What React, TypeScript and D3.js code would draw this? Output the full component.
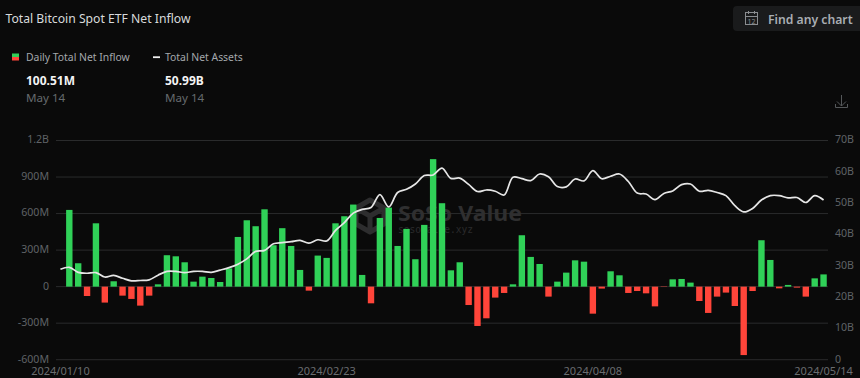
import React, { useEffect, useRef } from "react";
import * as d3 from "d3";

const dates = ["2024/01/10","2024/01/11","2024/01/12","2024/01/16","2024/01/17","2024/01/18","2024/01/19","2024/01/22","2024/01/23","2024/01/24","2024/01/25","2024/01/26","2024/01/29","2024/01/30","2024/01/31",
"2024/02/01","2024/02/02","2024/02/05","2024/02/06","2024/02/07","2024/02/08","2024/02/09","2024/02/12","2024/02/13","2024/02/14","2024/02/15","2024/02/16","2024/02/20","2024/02/21","2024/02/22","2024/02/23","2024/02/26","2024/02/27","2024/02/28","2024/02/29",
"2024/03/01","2024/03/04","2024/03/05","2024/03/06","2024/03/07","2024/03/08","2024/03/11","2024/03/12","2024/03/13","2024/03/14","2024/03/15","2024/03/18","2024/03/19","2024/03/20","2024/03/21","2024/03/22","2024/03/25","2024/03/26","2024/03/27","2024/03/28",
"2024/04/01","2024/04/02","2024/04/03","2024/04/04","2024/04/05","2024/04/08","2024/04/09","2024/04/10","2024/04/11","2024/04/12","2024/04/15","2024/04/16","2024/04/17","2024/04/18","2024/04/19","2024/04/22","2024/04/23","2024/04/24","2024/04/25","2024/04/26","2024/04/29","2024/04/30",
"2024/05/01","2024/05/02","2024/05/03","2024/05/06","2024/05/07","2024/05/08","2024/05/09","2024/05/10","2024/05/13","2024/05/14"];

// Daily net inflow, in millions of USD (first date has no bar)
const inflow: (number | null)[] = [null,630,192,-77,520,-131,44,-74,-101,-156,-74,19,258,249,200,41,82,71,38,150,408,545,496,635,340,480,334,137,-33,255,236,520,578,674,96,-137,564,649,334,474,225,507,1047,685,134,200,-151,-323,-260,-90,-52,19,422,244,186,-82,41,115,216,205,-222,-16,126,93,-52,-36,-55,-162,-3,60,63,33,-118,-216,-82,-49,-159,-562,-36,381,219,-14,14,-8,-82,68,100.51];

// Total net assets, in billions of USD
const assets = [28.9,29.5,27.9,27.6,27.8,26.4,26.9,26.0,25.2,25.3,25.5,27.0,28.2,28.2,27.8,28.2,28.2,27.9,28.6,29.4,30.5,32.2,34.6,34.9,37.0,37.4,37.7,38.1,37.2,38.3,37.9,41.3,43.8,46.8,48.0,48.6,52.7,48.8,53.4,54.4,56.1,58.8,59.0,61.2,57.9,58.0,56.0,53.7,54.2,53.8,52.6,58.3,57.8,57.2,59.3,58.4,55.3,55.2,57.7,57.1,60.4,57.8,58.6,59.3,56.9,53.2,52.9,51.1,53.1,53.9,55.9,56.1,53.8,54.1,53.4,52.4,49.2,47.2,48.3,51.0,52.4,52.4,51.7,51.8,50.2,52.4,50.99];

const leftTicks = [-600, -300, 0, 300, 600, 900, 1200];
const leftLabels = ["-600M", "-300M", "0", "300M", "600M", "900M", "1.2B"];
const rightTicks = [0, 10, 20, 30, 40, 50, 60, 70];
const rightLabels = ["0", "10B", "20B", "30B", "40B", "50B", "60B", "70B"];
const xTickLabels = ["2024/01/10", "2024/02/23", "2024/04/08", "2024/05/14"];

const FONT = "'Noto Sans', sans-serif";
const GREEN = "#30d158";
const RED = "#ff453a";

export default function App() {
  const ref = useRef<SVGSVGElement>(null);
  useEffect(() => {
    const svg = d3.select(ref.current!);
    svg.selectAll("*").remove();
    svg.attr("font-family", FONT);

    const defs = svg.append("defs");
    const lg = defs.append("linearGradient").attr("id", "lg").attr("x1", 0).attr("x2", 0).attr("y1", 0).attr("y2", 1);
    lg.append("stop").attr("offset", "50%").attr("stop-color", GREEN);
    lg.append("stop").attr("offset", "50%").attr("stop-color", RED);

    svg.append("rect").attr("width", 860).attr("height", 378).attr("fill", "#0a0a0a");

    const x = d3.scaleBand<string>().domain(dates).range([56, 828]).paddingInner(0.28).paddingOuter(0.14);
    const yL = d3.scaleLinear().domain([-600, 1200]).range([359.7, 140.5]);
    const yR = d3.scaleLinear().domain([0, 70]).range([359.7, 140.5]);
    const yLabel = d3.scaleLinear().domain([-600, 1200]).range([358.7, 139.5]);
    const cx = (d: string) => x(d)! + x.bandwidth() / 2;

    // header
    svg.append("text").text("Total Bitcoin Spot ETF Net Inflow").attr("x", 5.5).attr("y", 23).attr("font-size", 12.2).attr("fill", "#d8dadc");
    svg.append("rect").attr("x", 12).attr("y", 53.5).attr("width", 7).attr("height", 7).attr("fill", "url(#lg)");
    svg.append("text").text("Daily Total Net Inflow").attr("x", 26).attr("y", 61).attr("font-size", 10.4).attr("fill", "#a4a8ac");
    svg.append("rect").attr("x", 153).attr("y", 56.3).attr("width", 7).attr("height", 1.8).attr("fill", "#f0f0f0");
    svg.append("text").text("Total Net Assets").attr("x", 165).attr("y", 61).attr("font-size", 10.4).attr("fill", "#a4a8ac");
    const vals: [number, string][] = [[26, d3.format(".2f")(inflow[86]!) + "M"], [165, d3.format(".2f")(assets[86]) + "B"]];
    vals.forEach(([vx, t]) => {
      svg.append("text").text(t).attr("x", vx).attr("y", 84.5).attr("font-size", 12).attr("font-weight", 700).attr("fill", "#f4f4f4");
      svg.append("text").text("May 14").attr("x", vx).attr("y", 102).attr("font-size", 11.6).attr("fill", "#666a6e");
    });

    // find button
    svg.append("rect").attr("x", 733).attr("y", 6).attr("width", 140).attr("height", 25).attr("rx", 4).attr("fill", "#1a1b1c");
    const cal = svg.append("g").attr("fill", "none").attr("stroke", "#8a8d90").attr("stroke-width", 1);
    cal.append("rect").attr("x", 745.5).attr("y", 12.5).attr("width", 12).attr("height", 12);
    cal.append("path").attr("d", "M745.5 16.5H757.5M748.5 11V14M754.5 11V14");
    svg.append("text").text("12").attr("x", 751.5).attr("y", 23.5).attr("text-anchor", "middle").attr("font-size", 7).attr("fill", "#8a8d90");
    svg.append("text").text("Find any chart").attr("x", 768).attr("y", 23.5).attr("font-size", 12.2).attr("font-weight", 600).attr("fill", "#a9aeb3");

    // download icon
    svg.append("path").attr("d", "M841.5 95V106M837 101.5L841.5 106L846 101.5M835.5 104V107.5H847.5V104")
      .attr("fill", "none").attr("stroke", "#55585a").attr("stroke-width", 1);

    // grid
    svg.append("g").selectAll("line").data(leftTicks).join("line")
      .attr("x1", 56).attr("x2", 828)
      .attr("y1", (d) => yL(d)).attr("y2", (d) => yL(d))
      .attr("stroke", "#2a2b2c").attr("stroke-width", 1);

    // left / right axes
    const axL = d3.axisLeft(yLabel).tickValues(leftTicks).tickSize(0).tickPadding(0)
      .tickFormat((_, i) => leftLabels[i]);
    const gL = svg.append("g").attr("transform", "translate(49,0)").call(axL);
    gL.select(".domain").remove();
    gL.selectAll("text").attr("font-family", FONT).attr("font-size", 10.6).attr("fill", "#5f6266").attr("dy", "0.32em");

    const yRLabel = d3.scaleLinear().domain([0, 70]).range([358.7, 139.5]);
    const axR = d3.axisRight(yRLabel).tickValues(rightTicks).tickSize(0).tickPadding(0)
      .tickFormat((_, i) => rightLabels[i]);
    const gR = svg.append("g").attr("transform", "translate(835,0)").call(axR);
    gR.select(".domain").remove();
    gR.selectAll("text").attr("font-family", FONT).attr("font-size", 10.6).attr("fill", "#5f6266").attr("dy", "0.32em");

    // x labels
    xTickLabels.forEach((d) => {
      svg.append("text").text(d).attr("x", cx(d)).attr("y", 374.5).attr("text-anchor", "middle")
        .attr("font-size", 11).attr("fill", "#6a6d70");
    });

    // watermark (behind the bars and line)
    const wm = svg.append("g");
    wm.append("path").attr("d", "M370 200L384 208V224L370 232L356 224V208Z M356 208L370 216L384 208M370 216V232")
      .attr("fill", "none").attr("stroke", "#2d2d2e").attr("stroke-width", 5).attr("stroke-linejoin", "round");
    wm.append("text").text("SoSo Value").attr("x", 398).attr("y", 221).attr("font-size", 22).attr("font-weight", 700)
      .attr("textLength", 124).attr("lengthAdjust", "spacingAndGlyphs").attr("fill", "#2f2f30");
    wm.append("text").text("sosovalue.xyz").attr("x", 398).attr("y", 233).attr("font-size", 9.6)
      .attr("font-family", "'DejaVu Sans Mono', monospace").attr("fill", "#2b2b2c");

    // bars
    const bars = dates.map((d, i) => ({ d, v: inflow[i] })).filter((b) => b.v !== null) as { d: string; v: number }[];
    svg.append("g").selectAll("rect").data(bars).join("rect")
      .attr("x", (b) => x(b.d)!)
      .attr("width", x.bandwidth())
      .attr("y", (b) => Math.min(yL(b.v), yL(0)))
      .attr("height", (b) => Math.abs(yL(b.v) - yL(0)))
      .attr("fill", (b) => (b.v >= 0 ? GREEN : RED));

    // line
    const line = d3.line<number>().x((_, i) => cx(dates[i])).y((v) => yR(v)).curve(d3.curveCatmullRom.alpha(0.5));
    svg.append("path").attr("d", line(assets)!).attr("fill", "none").attr("stroke", "#e6e6e6").attr("stroke-width", 1.7);
  }, []);
  return <svg ref={ref} width={860} height={378} style={{ position: "absolute", left: 0, top: 0, display: "block" }} />;
}
